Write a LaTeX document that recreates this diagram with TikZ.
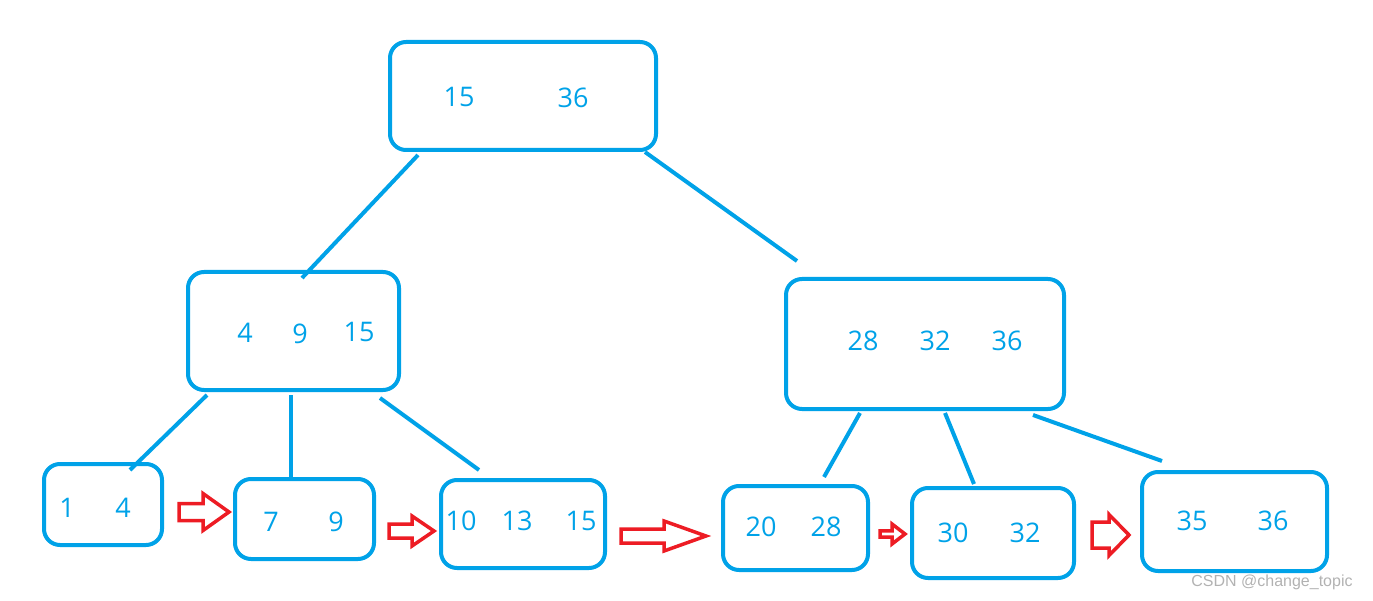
\documentclass[tikz,border=0pt]{standalone}
\usepackage{fontspec}
\setmainfont{Open Sans}
\newfontfamily\wmfont{Liberation Sans}
\definecolor{paintblue}{RGB}{0,162,232}
\definecolor{paintred}{RGB}{237,28,36}
\usetikzlibrary{calc}

\begin{document}
\begin{tikzpicture}[
  x=1pt, y=-1pt,
  bnode/.style={rectangle, rounded corners=16pt, draw=paintblue, line width=4pt, inner sep=0pt},
  key/.style={text=paintblue, font=\fontsize{27}{27}\selectfont, inner sep=0pt},
  link/.style={draw=paintblue, line width=4pt},
  ptr/.style={draw=paintred, line width=3.5pt, fill=white, line join=miter},
  wmark/.style={text=gray!60, font=\wmfont\fontsize{16}{16}\selectfont, inner sep=0pt}
]
  \useasboundingbox (0,0) rectangle (1373,601);

  \node[bnode, minimum width=266pt, minimum height=108pt] (ROOT) at (523,96) {};
  \node[bnode, minimum width=211pt, minimum height=118pt] (L) at (293.5,331) {};
  \node[bnode, minimum width=278pt, minimum height=130pt] (R) at (925,344) {};
  \node[bnode, minimum width=118pt, minimum height=81pt] (LA) at (103,504.5) {};
  \node[bnode, minimum width=139pt, minimum height=80pt] (LB) at (304.5,519) {};
  \node[bnode, minimum width=164pt, minimum height=88pt] (LC) at (523,524) {};
  \node[bnode, minimum width=145pt, minimum height=84pt] (RD) at (795.5,528) {};
  \node[bnode, minimum width=162pt, minimum height=90pt] (RE) at (993,533) {};
  \node[bnode, minimum width=185pt, minimum height=99pt] (RF) at (1234.5,521.5) {};

  \foreach \n/\x/\y/\t in {ROOT1/459/97/15, ROOT2/573/98/36,
      L1/245/333/4, L2/300/334/9, L3/359/332/15,
      R1/863/341/28, R2/935/341/32, R3/1007/341/36,
      LA1/67/508/1, LA2/123/508/4, LB1/271/522/7, LB2/336/522/9,
      LC1/461/521/10, LC2/517/521/13, LC3/581/521/15,
      RD1/761/527/20, RD2/826/527/28, RE1/953/533/30, RE2/1025/533/32,
      RF1/1192/521/35, RF2/1273/521/36}
    \node[key] (\n) at (\x,\y) {\t};

  \foreach \a/\dx/\dy/\b/\ex/\ey in {ROOT.south west/30/3/L.north west/116/8,
      ROOT.south east/-13/0/R.north west/13/-16,
      L.south west/21/3/LA.north west/88/8,
      L.south west/105/3/LB.north west/58/0,
      L.south east/-21/6/LC.north west/40/-8,
      R.south west/76/2/RD.north west/103/-7,
      R.south west/161/2/RE.north west/64/-2,
      R.south east/-33/4/RF.north west/22/-9}
    \draw[link] ($(\a)+(\dx,\dy)$) -- ($(\b)+(\ex,\ey)$);

  \foreach \xa/\xb/\xc/\yc/\t/\h in {179/203/229/512/8.5/18.5, 389/412/434/531/7/15,
      621/664/706/536/7/15, 880/892/905/534/3.2/10, 1092/1109/1129/535/13/20.5}
    \draw[ptr] (\xa,\yc-\t) -- (\xb,\yc-\t) -- (\xb,\yc-\h) -- (\xc,\yc)
      -- (\xb,\yc+\h) -- (\xb,\yc+\t) -- (\xa,\yc+\t) -- cycle;

  \node[wmark] (WM) at (1272,582) {CSDN @change\_topic};
\end{tikzpicture}
\end{document}
